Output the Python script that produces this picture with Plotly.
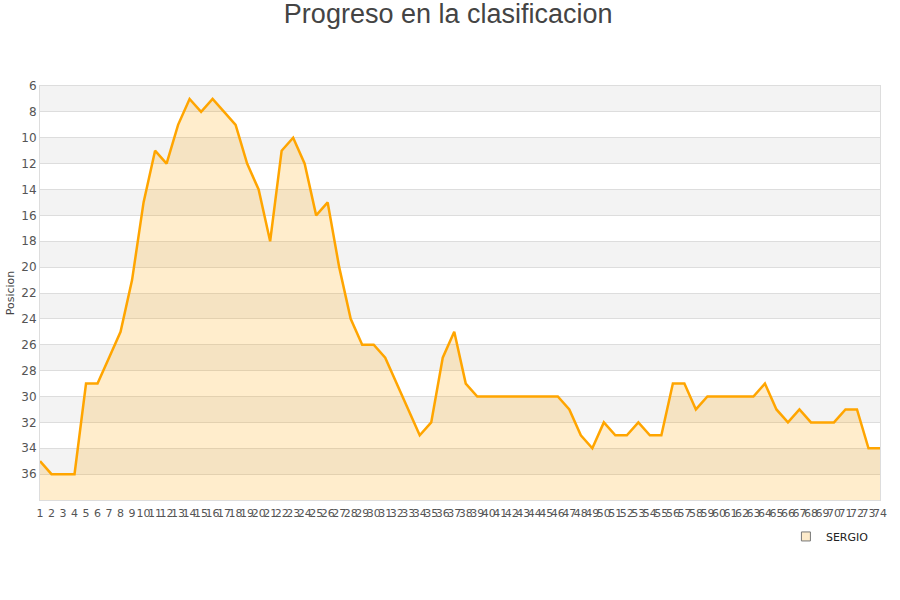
import plotly.graph_objects as go

jornadas = list(range(1, 75))
posiciones = [35, 36, 36, 36, 29, 29, 27, 25, 21, 15,
              11, 12, 9, 7, 8, 7, 8, 9, 12, 14,
              18, 11, 10, 12, 16, 15, 20, 24, 26, 26,
              27, 29, 31, 33, 32, 27, 25, 29, 30, 30,
              30, 30, 30, 30, 30, 30, 31, 33, 34, 32,
              33, 33, 32, 33, 33, 29, 29, 31, 30, 30,
              30, 30, 30, 29, 31, 32, 31, 32, 32, 32,
              31, 31, 34, 34]
y_ticks = list(range(6, 37, 2))
serie = "SERGIO"

fig = go.Figure()

# alternating bands
for k, lo in enumerate(range(6, 38, 2)):
    if k % 2 == 0:
        fig.add_shape(type="rect", xref="paper", yref="y", x0=0, x1=1, y0=lo, y1=lo + 2,
                      fillcolor="#F3F3F3", line_width=0, layer="below")

fig.add_trace(go.Scatter(x=jornadas, y=[38] * len(jornadas), mode="lines",
                         line=dict(width=0), showlegend=False, hoverinfo="skip"))
fig.add_trace(go.Scatter(x=jornadas, y=posiciones, mode="lines", name=serie,
                         line=dict(color="#FFA500", width=2.5),
                         fill="tonexty", fillcolor="rgba(255,165,0,0.2)",
                         showlegend=False))
fig.add_trace(go.Scatter(x=[None], y=[None], mode="markers", name=serie,
                         marker=dict(symbol="square", size=9, color="#FDEBCB",
                                     line=dict(color="#777777", width=1))))

fig.update_layout(
    width=900, height=600,
    paper_bgcolor="white", plot_bgcolor="white",
    margin=dict(l=40, r=20, t=86, b=100, autoexpand=False),
    title=dict(text="Progreso en la clasificacion", x=0.498, xanchor="center",
               yref="container", y=0.993, yanchor="top",
               font=dict(family="Liberation Sans, Arial", size=27, color="#444444")),
    font=dict(family="DejaVu Sans", size=11, color="#555555"),
    showlegend=True,
    legend=dict(x=0.888, y=-0.053, xanchor="left", yanchor="top", orientation="h",
                itemwidth=30,
                font=dict(family="DejaVu Sans", size=11, color="#222222"),
                bgcolor="rgba(0,0,0,0)"),
    xaxis=dict(range=[1, 74], tickmode="array", tickvals=jornadas, automargin=False,
               ticktext=[str(j) for j in jornadas], tickangle=0, ticklabelstandoff=3,
               showgrid=False, zeroline=False, showline=True, linecolor="#DDDDDD", mirror=True,
               ticks="", tickfont=dict(size=11, color="#555555")),
    yaxis=dict(range=[38, 6], tickmode="array", tickvals=y_ticks, automargin=False,
               showgrid=True, gridcolor="#DDDDDD", gridwidth=1, zeroline=False,
               showline=True, linecolor="#DDDDDD", mirror=True, ticks="",
               tickfont=dict(size=12, color="#555555"),
               title=dict(text="Posicion", font=dict(size=11, color="#444444"), standoff=4)),
)

fig.write_html("out.html", config={"displayModeBar": False},
               post_script="document.body.style.margin='0';")
